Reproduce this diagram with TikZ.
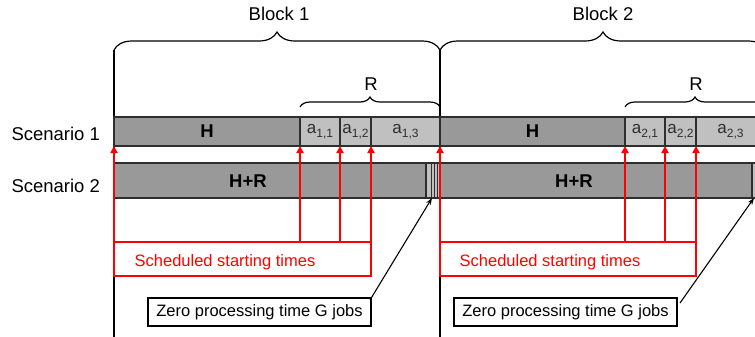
\documentclass[tikz,border=0pt]{standalone}
\usepackage{fontspec}
\setmainfont{Liberation Sans}
\usetikzlibrary{decorations.pathreplacing,arrows.meta,calc}

\definecolor{darkcell}{HTML}{999999}
\definecolor{lightcell}{HTML}{C0C0C0}
\definecolor{edgegray}{HTML}{2E2E2E}
\definecolor{schedred}{HTML}{FF0000}

\newcommand{\fs}[1]{\fontsize{#1}{#1}\selectfont}
\newcommand{\acell}[2]{a{\fs{12}\raisebox{-3.5pt}{#1,#2}}}

\tikzset{
  x=1pt, y=-1pt,
  cell/.style={draw=edgegray, line width=1.2pt, minimum height=29pt, inner sep=0pt,
    anchor=north west, outer sep=0pt},
  darkbox/.style={cell, fill=darkcell, font=\fs{18.5}\bfseries},
  lightbox/.style={cell, fill=lightcell, text=edgegray, font=\fs{17}},
  longbar/.style={draw=edgegray, line width=1.2pt, fill=darkcell, minimum height=35pt,
    inner sep=0pt, anchor=north west, outer sep=0pt},
  zerobox/.style={draw=edgegray, line width=1.2pt, fill=lightcell, minimum height=35pt,
    minimum width=14pt, inner sep=0pt, anchor=north west, outer sep=0pt},
  blockline/.style={line width=1.3pt, black},
  bigbrace/.style={decorate, decoration={brace, amplitude=18pt}, line width=1.2pt},
  smallbrace/.style={decorate, decoration={brace, amplitude=10pt}, line width=1.2pt},
  title/.style={font=\fs{18.5}},
  redarrow/.style={draw=schedred, line width=1.8pt, -{Triangle[width=7pt,length=7pt]}},
  redbox/.style={draw=schedred, line width=1.4pt, minimum height=34pt, inner sep=0pt,
    anchor=north west, outer sep=0pt},
  redtext/.style={text=schedred, font=\fs{16.5}},
  notebox/.style={draw=black, line width=1.1pt, fill=white, minimum height=28pt,
    minimum width=223pt, inner sep=0pt, anchor=north west, font=\fs{16.5}, outer sep=0pt},
  pointer/.style={draw=black, line width=1.1pt, -{Stealth[length=7pt,width=5pt]}},
}

\begin{document}
\begin{tikzpicture}
\clip (0,0) rectangle (755,337);
\fill[white] (0,0) rectangle (755,337);

% block boundaries
\coordinate (b1top) at (114,50);
\coordinate (b2top) at (440,50);
\coordinate (b3top) at (766,50);
\coordinate (b1bot) at (114,337);
\coordinate (b2bot) at (440,337);
\draw[blockline] (b1top) -- (b1bot);
\draw[blockline] (b2top) -- (b2bot);

% block braces and titles
\draw[bigbrace] (b1top) -- (b2top);
\draw[bigbrace] (b2top) -- (b3top);
\node[title] (blk1) at (279,14) {Block 1};
\node[title] (blk2) at (603,14) {Block 2};

% R braces
\coordinate (r1a) at (300,107);
\coordinate (r1b) at (440,107);
\coordinate (r2a) at (625,107);
\coordinate (r2b) at (765,107);
\draw[smallbrace] (r1a) -- (r1b);
\draw[smallbrace] (r2a) -- (r2b);
\node[title] (rlab1) at (371,84) {R};
\node[title] (rlab2) at (696,84) {R};

% scenario labels
\node[title, anchor=west] (sc1) at (8,134) {Scenario 1};
\node[title, anchor=west] (sc2) at (8,186) {Scenario 2};

% scenario 1, block 1
\node[darkbox, minimum width=186pt] (h1) at (114,117) {H};
\node[lightbox, minimum width=40pt] (a11) at (300,117) {\acell{1}{1}};
\node[lightbox, minimum width=31pt] (a12) at (340,117) {\acell{1}{2}};
\node[lightbox, minimum width=69pt] (a13) at (371,117) {\acell{1}{3}};
% scenario 1, block 2
\node[darkbox, minimum width=185pt] (h2) at (440,117) {H};
\node[lightbox, minimum width=40pt] (a21) at (625,117) {\acell{2}{1}};
\node[lightbox, minimum width=31pt] (a22) at (665,117) {\acell{2}{2}};
\node[lightbox, minimum width=69pt] (a23) at (696,117) {\acell{2}{3}};

% scenario 2 bars
\node[longbar, minimum width=312pt] (hr1) at (114,163) {};
\node[font=\fs{18.5}\bfseries] (hr1lab) at (248,181) {H+R};
\node[zerobox] (g1) at (426,163) {};
\draw[edgegray, line width=0.9pt] (431,163) -- (431,198) (434,163) -- (434,198) (437,163) -- (437,198);
\node[longbar, minimum width=312pt] (hr2) at (440,163) {};
\node[font=\fs{18.5}\bfseries] (hr2lab) at (574,181) {H+R};
\node[zerobox] (g2) at (752,163) {};

% scheduled starting times
\node[redbox, minimum width=257pt] (st1) at (114,242) {};
\node[redtext] (st1lab) at (225,262) {Scheduled starting times};
\node[redbox, minimum width=256pt] (st2) at (440,242) {};
\node[redtext] (st2lab) at (550,262) {Scheduled starting times};

\draw[redarrow] (st1.north west) -- (h1.south west);
\draw[redarrow] (a11.south west |- st1.north) -- (a11.south west);
\draw[redarrow] (a12.south west |- st1.north) -- (a12.south west);
\draw[redarrow] (st1.north east) -- (a13.south west);
\draw[redarrow] (st2.north west) -- (h2.south west);
\draw[redarrow] (a21.south west |- st2.north) -- (a21.south west);
\draw[redarrow] (a22.south west |- st2.north) -- (a22.south west);
\draw[redarrow] (st2.north east) -- (a23.south west);

% zero processing time jobs
\node[notebox] (z1) at (148,298) {Zero processing time G jobs};
\node[notebox] (z2) at (454,298) {Zero processing time G jobs};
\draw[pointer] ([shift={(-1,2)}]z1.north east) -- ([xshift=-1]g1.south);
\draw[pointer] ([shift={(3,5)}]z2.north east) -- ([xshift=2]g2.south west);
\end{tikzpicture}
\end{document}
